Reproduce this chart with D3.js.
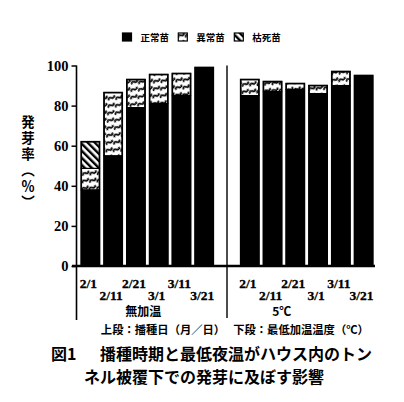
<!DOCTYPE html>
<html><head><meta charset="utf-8">
<script src="https://cdn.jsdelivr.net/npm/d3@7"></script>
<style>body{margin:0;background:#fff}svg{display:block}</style>
</head><body>
<script>
const dates = ["2/1","2/11","2/21","3/1","3/11","3/21"];
const groups = ["無加温","5℃"];
const seriesNames = ["正常苗","異常苗","枯死苗"];
const normal0 = [38, 55, 79, 81, 85, 99];
const abnormal0 = [10.7, 31.5, 14, 14.5, 11, 0];
const dead0 = [13.3, 0, 0, 0, 0, 0];
const normal1 = [85, 87, 88, 86, 90, 95];
const abnormal1 = [8, 5, 3, 4, 7, 0];
const dead1 = [0, 0, 0, 0, 0, 0];
const yTicks = [0, 20, 40, 60, 80, 100];

const W = 404, H = 402;
const svg = d3.select("body").append("svg").attr("width", W).attr("height", H);
const defs = svg.append("defs");
const pw = defs.append("pattern").attr("id","wave").attr("patternUnits","userSpaceOnUse")
  .attr("width",11).attr("height",10).attr("patternTransform","rotate(-45)");
pw.append("rect").attr("width",11).attr("height",10).attr("fill","#fff");
pw.append("path").attr("d","M0.5,3 q1.8,-3.2 3.6,0 t3.6,0").attr("fill","none").attr("stroke","#000").attr("stroke-width",1.8);
pw.append("path").attr("d","M6,8 q1.8,-3.2 3.6,0 t3.6,0 M-5,8 q1.8,-3.2 3.6,0 t3.6,0").attr("fill","none").attr("stroke","#000").attr("stroke-width",1.8);
const ph = defs.append("pattern").attr("id","hatch").attr("patternUnits","userSpaceOnUse")
  .attr("width",5).attr("height",5).attr("patternTransform","rotate(-45)");
ph.append("rect").attr("width",5).attr("height",5).attr("fill","#fff");
ph.append("rect").attr("width",2.4).attr("height",5).attr("fill","#000");
const fills = ["#000","url(#wave)","url(#hatch)"];

// build rows
const keys = [];
const rows = [];
groups.forEach((g, gi) => {
  const n = gi === 0 ? normal0 : normal1, a = gi === 0 ? abnormal0 : abnormal1, d = gi === 0 ? dead0 : dead1;
  dates.forEach((dt, i) => {
    const k = g + "|" + dt;
    keys.push(k);
    rows.push({key: k, g: gi, date: dt, i, vals: [n[i], a[i], d[i]]});
  });
  if (gi === 0) keys.push("gap");
});

const x = d3.scaleBand().domain(keys).range([79, 375]).paddingInner(0.2).paddingOuter(0.1);
const y = d3.scaleLinear().domain([0, 100]).range([266, 65.5]);

// bars
rows.forEach(r => {
  let acc = 0;
  const bx = x(r.key), bw = x.bandwidth();
  r.vals.forEach((v, si) => {
    if (v <= 0) return;
    svg.append("rect").attr("x", bx).attr("width", bw)
      .attr("y", y(acc + v)).attr("height", y(acc) - y(acc + v))
      .attr("fill", fills[si]).attr("stroke","#000").attr("stroke-width",1.2);
    acc += v;
  });
  svg.append("rect").attr("x", bx).attr("width", bw).attr("y", y(acc)).attr("height", y(0) - y(acc))
    .attr("fill","none").attr("stroke","#000").attr("stroke-width",1.6);
});

// y axis
const yAxis = d3.axisLeft(y).tickValues(yTicks).tickSize(5).tickPadding(3);
const ya = svg.append("g").attr("transform","translate(76.5,0)").call(yAxis);
ya.select(".domain").remove();
ya.selectAll(".tick line").attr("stroke","#000").attr("stroke-width",1.5);
ya.selectAll(".tick text").attr("font-family","Liberation Serif").attr("font-weight","bold")
  .attr("font-size",14.5).attr("fill","#000");
svg.append("line").attr("x1",76.5).attr("x2",76.5).attr("y1",y(100)).attr("y2",320)
  .attr("stroke","#000").attr("stroke-width",1.6);
svg.append("line").attr("x1",72).attr("x2",375).attr("y1",y(0)).attr("y2",y(0))
  .attr("stroke","#000").attr("stroke-width",2.5);
const divX = x("gap") + x.bandwidth()/2;
svg.append("line").attr("x1",divX).attr("x2",divX).attr("y1",y(100)).attr("y2",318)
  .attr("stroke","#000").attr("stroke-width",1.4);

// x labels
rows.forEach(r => {
  svg.append("text").attr("x", x(r.key) + x.bandwidth()/2 - 2)
    .attr("y", r.i % 2 === 0 ? 288 : 299.5)
    .attr("text-anchor","middle").attr("font-family","Liberation Serif").attr("font-weight","bold")
    .attr("font-size",13.5).attr("fill","#000").attr("stroke","#000").attr("stroke-width",0.3).text(r.date);
});
const gOff = [-4, -25];
groups.forEach((g, gi) => {
  const k0 = g + "|" + dates[0], k5 = g + "|" + dates[5];
  const cx = (x(k0) + x(k5) + x.bandwidth())/2 + gOff[gi];
  svg.append("text").attr("x", cx).attr("y", 316).attr("text-anchor","middle")
    .attr("font-family","Noto Sans CJK JP").attr("font-weight","bold").attr("font-size",12)
    .attr("fill","#000").text(g);
});
svg.append("text").attr("x",163).attr("y",334).attr("text-anchor","middle")
  .attr("font-family","Noto Sans CJK JP").attr("font-weight","bold").attr("font-size",11.3)
  .attr("fill","#000").text("上段：播種日（月／日）");
svg.append("text").attr("x",301).attr("y",334).attr("text-anchor","middle")
  .attr("font-family","Noto Sans CJK JP").attr("font-weight","bold").attr("font-size",11.3)
  .attr("fill","#000").text("下段：最低加温温度（℃）");

// y label (vertical)
svg.append("text").attr("x",28).attr("y",115)
  .attr("font-family","Noto Sans CJK JP").attr("font-weight","bold").attr("font-size",13.5)
  .attr("letter-spacing",2.5).style("writing-mode","vertical-rl").style("text-orientation","mixed")
  .attr("fill","#000").text("発芽率（％）");

// legend
const legX = [122.5, 178.3, 234.3];
seriesNames.forEach((s, i) => {
  svg.append("rect").attr("x", legX[i]).attr("y", 33).attr("width", 9).attr("height", 8)
    .attr("fill", fills[i]).attr("stroke","#000").attr("stroke-width",1.2);
  svg.append("text").attr("x", legX[i] + 18).attr("y", 41)
    .attr("font-family","Noto Sans CJK JP").attr("font-weight","bold").attr("font-size",9.5)
    .attr("fill","#000").text(s);
});

// title
svg.append("text").attr("x",51).attr("y",360)
  .attr("font-family","Noto Sans CJK JP").attr("font-weight","bold").attr("font-size",16)
  .attr("fill","#000").text("図1");
svg.append("text").attr("x",100).attr("y",360)
  .attr("font-family","Noto Sans CJK JP").attr("font-weight","bold").attr("font-size",16)
  .attr("fill","#000").text("播種時期と最低夜温がハウス内のトン");
svg.append("text").attr("x",84).attr("y",383)
  .attr("font-family","Noto Sans CJK JP").attr("font-weight","bold").attr("font-size",16)
  .attr("fill","#000").text("ネル被覆下での発芽に及ぼす影響");
</script>
</body></html>
